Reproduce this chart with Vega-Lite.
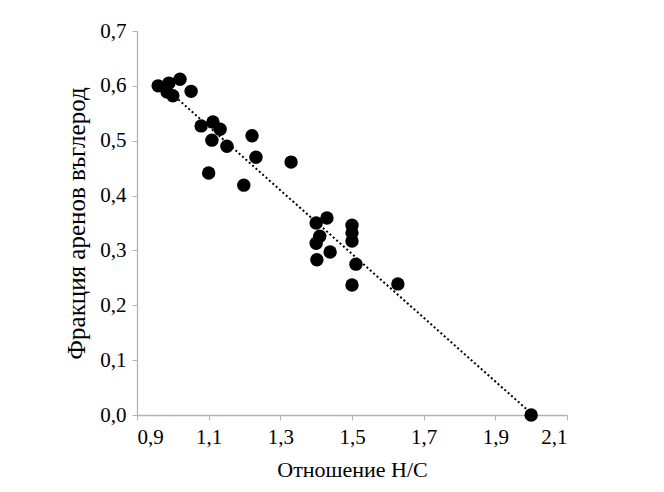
{
  "$schema": "https://vega.github.io/schema/vega-lite/v6.json",
  "autosize": "none",
  "width": 430,
  "height": 384,
  "padding": {"left": 137, "top": 31, "right": 97, "bottom": 77},
  "background": "white",
  "config": {
    "view": {"stroke": null},
    "font": "Liberation Serif",
    "axis": {
      "labelFont": "Liberation Serif",
      "titleFont": "Liberation Serif",
      "labelColor": "#000000",
      "titleColor": "#000000",
      "titleFontWeight": "normal",
      "domainColor": "#b3b3b3",
      "tickColor": "#b3b3b3",
      "domainWidth": 1.3,
      "grid": false
    }
  },
  "data": {
    "values": [
      {"hc": 0.959, "f": 0.600},
      {"hc": 0.989, "f": 0.605},
      {"hc": 1.020, "f": 0.612},
      {"hc": 0.984, "f": 0.589},
      {"hc": 1.000, "f": 0.582},
      {"hc": 1.051, "f": 0.590},
      {"hc": 1.079, "f": 0.527},
      {"hc": 1.112, "f": 0.534},
      {"hc": 1.132, "f": 0.521},
      {"hc": 1.109, "f": 0.501},
      {"hc": 1.151, "f": 0.490},
      {"hc": 1.221, "f": 0.509},
      {"hc": 1.232, "f": 0.470},
      {"hc": 1.330, "f": 0.461},
      {"hc": 1.100, "f": 0.441},
      {"hc": 1.198, "f": 0.419},
      {"hc": 1.430, "f": 0.359},
      {"hc": 1.400, "f": 0.350},
      {"hc": 1.410, "f": 0.326},
      {"hc": 1.400, "f": 0.313},
      {"hc": 1.402, "f": 0.283},
      {"hc": 1.439, "f": 0.297},
      {"hc": 1.500, "f": 0.346},
      {"hc": 1.500, "f": 0.332},
      {"hc": 1.500, "f": 0.317},
      {"hc": 1.511, "f": 0.275},
      {"hc": 1.500, "f": 0.237},
      {"hc": 1.628, "f": 0.239},
      {"hc": 2.000, "f": 0.000}
    ]
  },
  "encoding": {
    "x": {
      "field": "hc",
      "type": "quantitative",
      "scale": {"domain": [0.9, 2.1], "nice": false, "zero": false},
      "axis": {
        "values": [0.9, 1.1, 1.3, 1.5, 1.7, 1.9, 2.1],
        "labelExpr": "replace(format(datum.value, '.1f'), '.', ',')",
        "title": "Отношение H/C",
        "labelFont": "Liberation Serif",
        "titleFont": "Liberation Serif",
        "labelFontSize": 21,
        "titleFontSize": 22,
        "tickSize": 5,
        "labelPadding": 6,
        "titlePadding": 12
      }
    },
    "y": {
      "field": "f",
      "type": "quantitative",
      "scale": {"domain": [0, 0.7], "nice": false},
      "axis": {
        "values": [0, 0.1, 0.2, 0.3, 0.4, 0.5, 0.6, 0.7],
        "labelExpr": "replace(format(datum.value, '.1f'), '.', ',')",
        "title": "Фракция аренов въглерод",
        "labelFont": "Liberation Serif",
        "titleFont": "Liberation Serif",
        "labelFontSize": 21,
        "titleFontSize": 25,
        "tickSize": 5,
        "labelPadding": 6,
        "titlePadding": 10
      }
    }
  },
  "layer": [
    {
      "mark": {"type": "circle", "size": 180, "color": "#000000", "opacity": 1}
    },
    {
      "transform": [{"regression": "f", "on": "hc"}],
      "mark": {"type": "line", "color": "#000000", "strokeWidth": 2, "strokeDash": [2, 2.5]}
    }
  ]
}
